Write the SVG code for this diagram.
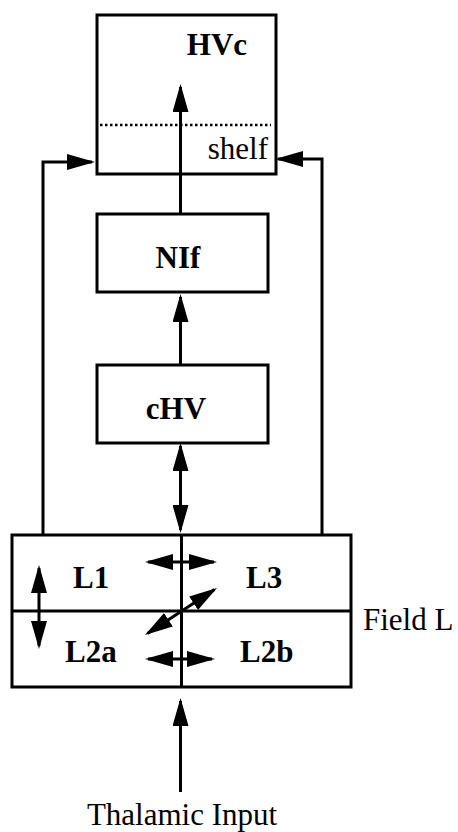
<svg xmlns="http://www.w3.org/2000/svg" width="458" height="832" viewBox="0 0 458 832">
<style>
.box{fill:#fff;stroke:#000;stroke-width:3}
.ln{fill:none;stroke:#000;stroke-width:3}
.b{font-family:"Liberation Serif","Times New Roman",serif;font-weight:bold;font-size:31px;fill:#000}
.n{font-family:"Liberation Serif","Times New Roman",serif;font-size:31px;fill:#000}
</style>
<defs>
<marker id="ah" markerUnits="userSpaceOnUse" markerWidth="28" markerHeight="16" refX="25" refY="8" orient="auto-start-reverse" viewBox="0 0 28 16">
<path d="M0,0 L28,8 L0,16 z" fill="#000"/>
</marker>
</defs>
<g id="HVc">
<rect class="box" x="97" y="15" width="179" height="159"/>
<line x1="100" y1="125" x2="271" y2="125" stroke="#000" stroke-width="2.5" stroke-dasharray="2.5,2.5"/>
<text class="b" x="217" y="55" text-anchor="middle">HVc</text>
<text class="n" x="268" y="159" text-anchor="end">shelf</text>
</g>
<g id="NIf">
<rect class="box" x="97" y="214" width="171" height="78"/>
<text class="b" x="178" y="268" text-anchor="middle">NIf</text>
</g>
<g id="cHV">
<rect class="box" x="97" y="365" width="171" height="78"/>
<text class="b" x="176" y="419" text-anchor="middle">cHV</text>
</g>
<g id="FieldL">
<rect class="box" x="12" y="535" width="339" height="152"/>
<line class="ln" x1="12" y1="611" x2="351" y2="611"/>
<line class="ln" x1="181.5" y1="535" x2="181.5" y2="687"/>
<text class="b" x="73" y="588">L1</text>
<text class="b" x="246" y="588">L3</text>
<text class="b" x="65" y="662">L2a</text>
<text class="b" x="240" y="662">L2b</text>
<text class="n" x="363" y="630">Field L</text>
</g>
<g id="thalamic">
<text class="n" x="182" y="825" text-anchor="middle">Thalamic Input</text>
</g>
<g id="connectors">
<line class="ln" x1="180.5" y1="214" x2="180.5" y2="87" marker-end="url(#ah)"/>
<line class="ln" x1="180.5" y1="365" x2="180.5" y2="297" marker-end="url(#ah)"/>
<line class="ln" x1="180.5" y1="446" x2="180.5" y2="530" marker-start="url(#ah)" marker-end="url(#ah)"/>
<path class="ln" d="M43,535 V162 H92" marker-end="url(#ah)"/>
<path class="ln" d="M322,535 V159 H278" marker-end="url(#ah)"/>
<line class="ln" x1="148" y1="562" x2="214" y2="562" marker-start="url(#ah)" marker-end="url(#ah)"/>
<line class="ln" x1="39" y1="568" x2="39" y2="646" marker-start="url(#ah)" marker-end="url(#ah)"/>
<line class="ln" x1="147.5" y1="633.4" x2="214.5" y2="589.6" marker-start="url(#ah)" marker-end="url(#ah)"/>
<line class="ln" x1="148" y1="659" x2="212" y2="659" marker-start="url(#ah)" marker-end="url(#ah)"/>
<line class="ln" x1="180.5" y1="792" x2="180.5" y2="701" marker-end="url(#ah)"/>
</g>
</svg>
